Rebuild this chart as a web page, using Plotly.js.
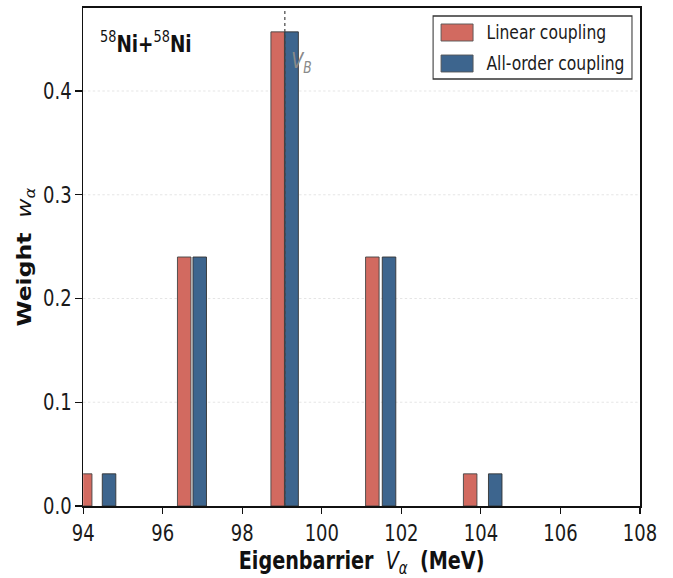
<!DOCTYPE html>
<html>
<head>
<meta charset="utf-8">
<script src="https://cdn.plot.ly/plotly-3.0.1.min.js"></script>
<style>
html,body{margin:0;padding:0;background:#fff;overflow:hidden;width:673px;height:578px;}
#chart{width:841px;height:578px;transform:scaleX(0.8);transform-origin:0 0;}
</style>
</head>
<body>
<div id="chart"></div>
<script>
const linearX = [94.05, 96.54, 98.89, 101.27, 103.73];
const linearW = [0.031, 0.240, 0.457, 0.240, 0.031];
const allOrderX = [94.65, 96.93, 99.24, 101.69, 104.36];
const allOrderW = [0.031, 0.240, 0.457, 0.240, 0.031];
const VB = 99.07;
const seriesNames = ['Linear coupling', 'All-order coupling'];
const seriesColors = ['#d26a60', '#3d658e'];
const xTicks = [94, 96, 98, 100, 102, 104, 106, 108];
const yTicks = [0.0, 0.1, 0.2, 0.3, 0.4];

const font = "DejaVu Sans, sans-serif";
const traces = [
  {type:'bar', name:seriesNames[0], x:linearX, y:linearW, width:0.34, showlegend:false,
   marker:{color:seriesColors[0], line:{color:'#444', width:1}}},
  {type:'bar', name:seriesNames[1], x:allOrderX, y:allOrderW, width:0.34, showlegend:false,
   marker:{color:seriesColors[1], line:{color:'#333', width:1}}}
];

// custom legend (wide swatches) in paper coordinates
const legBox = {x0:0.6284, x1:0.9856, y0:0.8574, y1:0.9839};
const swatchY = [[0.9337, 0.9679], [0.8715, 0.9056]];
const shapes = [
  {type:'line', xref:'x', yref:'paper', x0:VB, x1:VB, y0:0, y1:1,
   line:{color:'#444', width:1.5, dash:'dot'}, layer:'above'},
  {type:'rect', xref:'paper', yref:'paper', x0:legBox.x0, x1:legBox.x1, y0:legBox.y0, y1:legBox.y1,
   line:{color:'#333', width:1.3}, fillcolor:'#fff', layer:'above'}
];
const annotations = [
  {xref:'paper', yref:'paper', x:0.028, y:0.932, xanchor:'left', yanchor:'middle', showarrow:false,
   text:'<sup>58</sup><b>Ni+</b><sup>58</sup><b>Ni</b>', font:{size:23, family:font, color:'#111'}},
  {xref:'x', yref:'paper', x:VB+0.12, y:0.89, xanchor:'left', yanchor:'middle', showarrow:false,
   text:'<i>V<sub>B</sub></i>', font:{size:22, family:font, color:'#8a8a8a'}}
];
seriesNames.forEach((n, i) => {
  shapes.push({type:'rect', xref:'paper', yref:'paper', x0:0.6427, x1:0.7002,
    y0:swatchY[i][0], y1:swatchY[i][1], fillcolor:seriesColors[i],
    line:{color:'#555', width:1}, layer:'above'});
  annotations.push({xref:'paper', yref:'paper', x:0.7217, y:(swatchY[i][0]+swatchY[i][1])/2,
    xanchor:'left', yanchor:'middle', showarrow:false, text:n,
    font:{size:19.5, family:font, color:'#1a1a1a'}});
});

const layout = {
  width:841, height:578,
  margin:{l:104, r:41, t:8, b:72},
  barmode:'overlay',
  showlegend:false,
  paper_bgcolor:'#fff', plot_bgcolor:'#fff',
  font:{family:font, color:'#111', size:18},
  xaxis:{range:[94,108], tickvals:xTicks, ticktext:xTicks.map(String),
    ticks:'outside', ticklen:6, tickwidth:1.3, tickcolor:'#111', showgrid:false, zeroline:false,
    showline:true, linecolor:'#111', linewidth:1.8, mirror:true,
    tickfont:{size:22.5, family:font, color:'#1a1a1a'},
    title:{text:'<b>Eigenbarrier</b>&nbsp; <i>V<sub>α</sub></i>&nbsp; <b>(MeV)</b>', font:{size:24, family:font}, standoff:13}},
  yaxis:{range:[0,0.48], tickvals:yTicks, ticktext:yTicks.map(v=>v.toFixed(1)),
    ticks:'outside', ticklen:8, tickwidth:1.3, tickcolor:'#111', showgrid:true, gridcolor:'#e2e2e2', griddash:'dot', gridwidth:1,
    zeroline:false, showline:true, linecolor:'#111', linewidth:2, mirror:true,
    tickfont:{size:22.5, family:font, color:'#1a1a1a'},
    title:{text:'<b>Weight</b>&nbsp; <i>w<sub>α</sub></i>', font:{size:23.5, family:font}, standoff:8}},
  shapes:shapes,
  annotations:annotations
};
Plotly.newPlot('chart', traces, layout, {displayModeBar:false, staticPlot:true});
</script>
</body>
</html>
